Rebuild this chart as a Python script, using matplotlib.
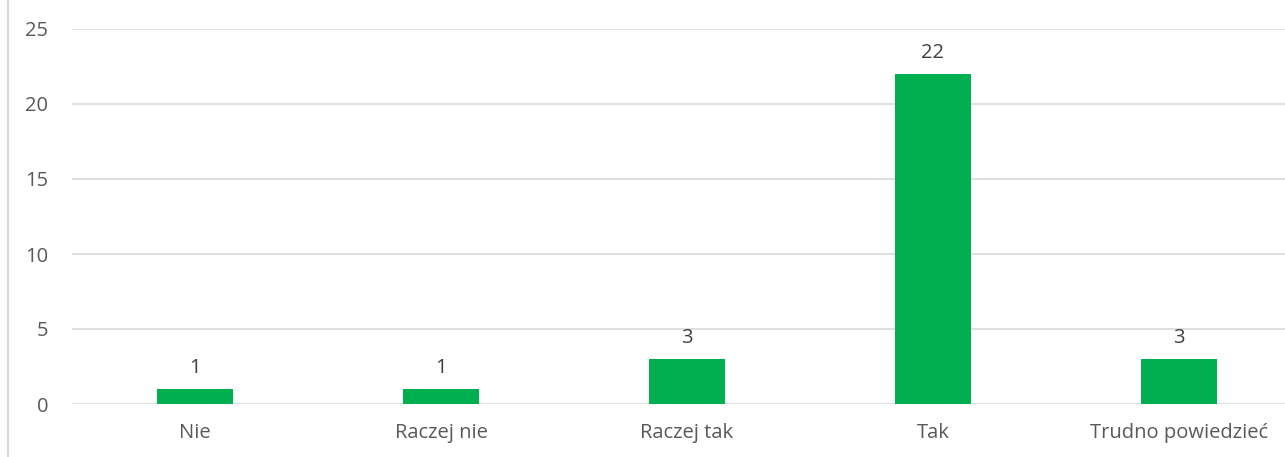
import matplotlib
matplotlib.use("Agg")
import matplotlib.pyplot as plt
from matplotlib.lines import Line2D

categories = ["Nie", "Raczej nie", "Raczej tak", "Tak", "Trudno powiedzieć"]
values = [1, 1, 3, 22, 3]
yticks = [0, 5, 10, 15, 20, 25]

plt.rcParams['font.family'] = ['Open Sans', 'DejaVu Sans']
gray = '#595959'
fs = 14.5

W, H = 1285, 457
fig = plt.figure(figsize=(W / 100, H / 100), dpi=100)
# plot area runs past the right edge of the picture, as in the source
ax = fig.add_axes([72 / W, 53 / H, 1230 / W, 375 / H])

x = range(len(categories))
ax.bar(x, values, width=0.313, color='#00b050', zorder=3)
for xi, v in zip(x, values):
    ax.annotate(str(v), (xi, v), xytext=(0, 8), textcoords='offset points',
                ha='center', va='bottom', fontsize=fs, color='#404040')

ax.set_xlim(-0.5, len(categories) - 0.5)
ax.set_ylim(0, 25)
ax.set_yticks(yticks)
ax.set_xticks(list(x))
ax.set_xticklabels(categories)
ax.grid(axis='y', color='#d9d9d9', linewidth=1.2, zorder=0)
ax.tick_params(length=0, labelsize=fs, labelcolor=gray)
ax.tick_params(axis='y', pad=17)
ax.tick_params(axis='x', pad=14)
for s in ax.spines.values():
    s.set_visible(False)

# chart frame edge on the left
fig.add_artist(Line2D([7.5 / W, 7.5 / W], [0, 1], color='#d9d9d9', linewidth=1.5))

fig.savefig("out.png", dpi=100)
